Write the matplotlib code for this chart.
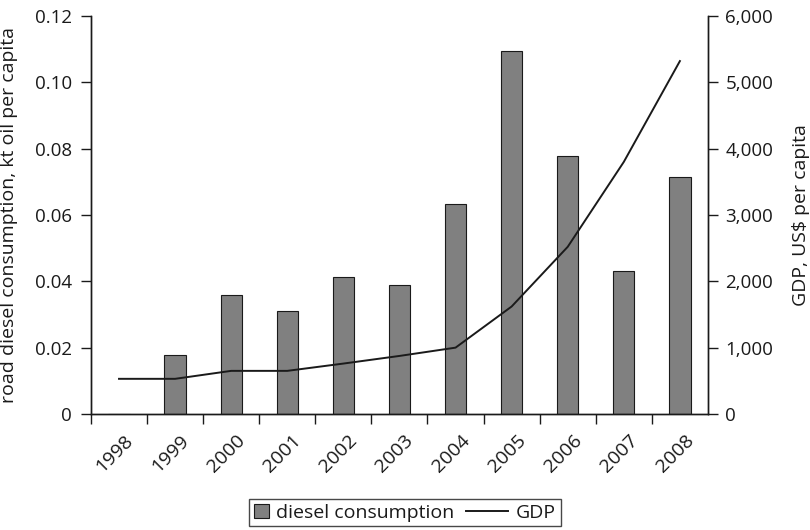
import matplotlib.pyplot as plt
import numpy as np
from matplotlib.legend_handler import HandlerLine2D

plt.rcParams["font.family"] = ["Open Sans", "DejaVu Sans"]

years = ["1998", "1999", "2000", "2001", "2002", "2003", "2004", "2005", "2006", "2007", "2008"]
diesel = [0, 0.0179, 0.036, 0.0311, 0.0412, 0.039, 0.0633, 0.1093, 0.0778, 0.043, 0.0715]
gdp = [530, 530, 650, 650, 760, 875, 1000, 1620, 2520, 3800, 5320]

x = np.arange(len(years))
ink = "#1a1a1a"


# longer line handle in the legend, the square stays small
class LongLine(HandlerLine2D):
    def get_xdata(self, legend, xdescent, ydescent, width, height, fontsize):
        xd = np.array([-xdescent - 1.4 * fontsize, -xdescent + width])
        return xd, xd


fig = plt.figure(figsize=(8.1, 5.3), dpi=100)
ax = fig.add_axes([0.1123, 0.2189, 0.7617, 0.751])
ax2 = ax.twinx()

ax.bar(x, diesel, width=0.38, color="#808080", edgecolor=ink, linewidth=0.8,
       label="diesel consumption", zorder=2)
ax2.plot(x, gdp, color=ink, linewidth=1.4, label="GDP")

ax.set_xlim(-0.5, 10.5)
ax.set_ylim(0, 0.12)
ax2.set_ylim(0, 6000)

ax.set_yticks([0, 0.02, 0.04, 0.06, 0.08, 0.10, 0.12])
ax.set_yticklabels(["0", "0.02", "0.04", "0.06", "0.08", "0.10", "0.12"])
ax2.set_yticks(range(0, 6001, 1000))
ax2.set_yticklabels([f"{v:,}" for v in range(0, 6001, 1000)])

ax.set_xticks(x - 0.5)
ax.set_xticklabels([])
ax.set_xticks(x + 0.2, minor=True)
ax.set_xticklabels(years, minor=True, rotation=45, ha="right", va="center",
                   rotation_mode="anchor")
ax.tick_params(axis="x", which="minor", length=0, pad=17)
ax.tick_params(axis="x", which="major", length=7, width=1, direction="out", color=ink)

for a in (ax, ax2):
    a.spines["top"].set_visible(False)
    for s in a.spines.values():
        s.set_linewidth(1)
        s.set_color(ink)
    a.tick_params(axis="y", length=7, width=1, labelsize=13.5, colors=ink)
ax.tick_params(axis="y", pad=6.5)
ax2.tick_params(axis="y", pad=5.5)
ax.tick_params(axis="x", which="both", labelsize=14, colors=ink)

ax.set_ylabel("road diesel consumption, kt oil per capita", fontsize=14, color=ink)
ax.yaxis.set_label_coords(-0.118, 0.5)
ax2.set_ylabel("GDP, US$ per capita", fontsize=14, color=ink)
ax2.yaxis.set_label_coords(1.136, 0.5)

h1, l1 = ax.get_legend_handles_labels()
h2, l2 = ax2.get_legend_handles_labels()
leg = fig.legend(h1 + h2, l1 + l2, loc="lower center", bbox_to_anchor=(0.5, 0.003), ncol=2,
                 frameon=True, fancybox=False, fontsize=14, handlelength=0.75,
                 handleheight=0.75, handletextpad=0.4, columnspacing=2.0, borderpad=0.25,
                 borderaxespad=0.1, handler_map={h2[0]: LongLine()})
leg.get_frame().set_edgecolor(ink)
leg.get_frame().set_linewidth(1)
for t in leg.get_texts():
    t.set_color(ink)

fig.savefig("out.png", dpi=100)
